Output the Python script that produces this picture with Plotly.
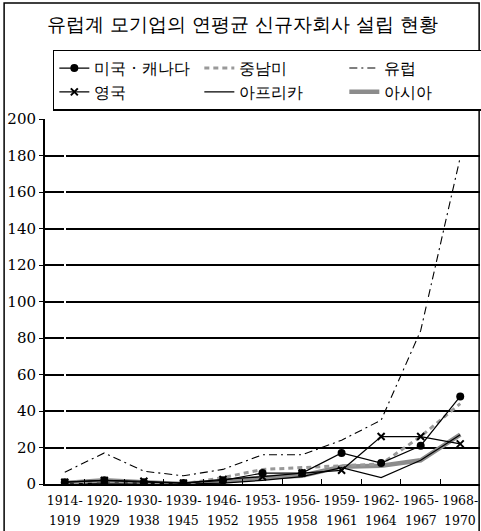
import plotly.graph_objects as go

period_start = ["1914-", "1920-", "1930-", "1939-", "1946-", "1953-", "1956-", "1959-", "1962-", "1965-", "1968-"]
period_end = ["1919", "1929", "1938", "1945", "1952", "1955", "1958", "1961", "1964", "1967", "1970"]
cat_keys = list(range(len(period_start)))

us_canada = [1, 2, 1, 0.5, 2, 6, 6, 17, 11.5, 21, 48]
latin_america = [0.5, 1.5, 1, 0, 3.5, 8, 9, 10, 11, 26, 44]
europe = [6.5, 17, 7, 4.5, 8, 16, 16, 24, 35, 84, 179]
uk = [1, 2, 1.5, 0.5, 2.5, 4, 6, 7.5, 26, 26, 22]
africa = [0, 0.5, 0.5, 0, 0.5, 2, 4, 9, 3.5, 13, 27]
asia = [0.5, 2, 1, 0, 1.5, 3.5, 4.5, 9.5, 10, 13, 27]

y_ticks = [0, 20, 40, 60, 80, 100, 120, 140, 160, 180, 200]
title_text = "유럽계 모기업의 연평균 신규자회사 설립 현황"

serif = "DejaVu Serif"

fig = go.Figure()
fig.add_trace(go.Scatter(x=cat_keys, y=asia, name="아시아", mode="lines",
                         line=dict(color="#8c8c8c", width=4.5), legendrank=6))
fig.add_trace(go.Scatter(x=cat_keys, y=africa, name="아프리카", mode="lines",
                         line=dict(color="black", width=1.2), legendrank=5))
fig.add_trace(go.Scatter(x=cat_keys, y=latin_america, name="중남미", mode="lines",
                         line=dict(color="#999999", width=3, dash="5px,4px"), legendrank=2))
fig.add_trace(go.Scatter(x=cat_keys, y=europe, name="유럽", mode="lines",
                         line=dict(color="black", width=1.1, dash="8px,4px,2px,4px"), legendrank=3))
fig.add_trace(go.Scatter(x=cat_keys, y=uk, name="영국", mode="lines+markers",
                         line=dict(color="black", width=1.2),
                         marker=dict(symbol="x-thin", size=7, line=dict(color="black", width=2)),
                         legendrank=4))
fig.add_trace(go.Scatter(x=cat_keys, y=us_canada, name="미국 · 캐나다", mode="lines+markers",
                         line=dict(color="black", width=1.2),
                         marker=dict(symbol="circle", size=8, color="black"), legendrank=1))

annotations = [dict(text=title_text, xref="paper", yref="paper", x=0.455, y=1.225,
                    xanchor="center", yanchor="bottom", showarrow=False,
                    font=dict(size=19, family=serif))]
for k, lab in zip(cat_keys, period_end):
    annotations.append(dict(text=lab, xref="x", yref="paper", x=k, y=-0.101,
                            xanchor="center", yanchor="middle", showarrow=False,
                            font=dict(size=12.5, family=serif)))

fig.update_layout(
    width=481, height=531,
    margin=dict(l=45, r=1, t=119, b=47, autoexpand=False),
    paper_bgcolor="white", plot_bgcolor="white",
    font=dict(family=serif, color="black"),
    showlegend=True,
    legend=dict(orientation="h", x=0.018, y=1.19, xanchor="left", yanchor="top",
                bordercolor="black", borderwidth=1.5, bgcolor="white",
                entrywidth=100, entrywidthmode="pixels",
                font=dict(size=16, family=serif), tracegroupgap=0,
                traceorder="normal"),
    annotations=annotations,
    shapes=[dict(type="rect", xref="paper", yref="paper", x0=-0.094, x1=0.998,
                 y0=-0.3, y1=1.318, line=dict(color="black", width=1.5), layer="below")],
    xaxis=dict(
        type="linear", range=[-0.5, 10.5],
        tickmode="array", tickvals=cat_keys, ticktext=period_start,
        showgrid=False, showline=True, linecolor="black", linewidth=2,
        ticks="", tickfont=dict(size=12.5, family=serif), ticklabelstandoff=4,
        minor=dict(tickmode="array", tickvals=[k + 0.5 for k in cat_keys[:-1]],
                   ticks="inside", ticklen=5, tickcolor="black", tickwidth=1, showgrid=False),
    ),
    yaxis=dict(
        range=[0, 200], tickmode="array", tickvals=y_ticks,
        showgrid=True, gridcolor="black", gridwidth=1.5,
        showline=True, linecolor="black", linewidth=2,
        ticks="outside", ticklen=4, tickcolor="black",
        tickfont=dict(size=15, family=serif), zeroline=False,
    ),
)

fig.write_html("out.html", config={"displayModeBar": False},
               post_script="document.body.style.margin='0';document.body.style.overflow='hidden';")
